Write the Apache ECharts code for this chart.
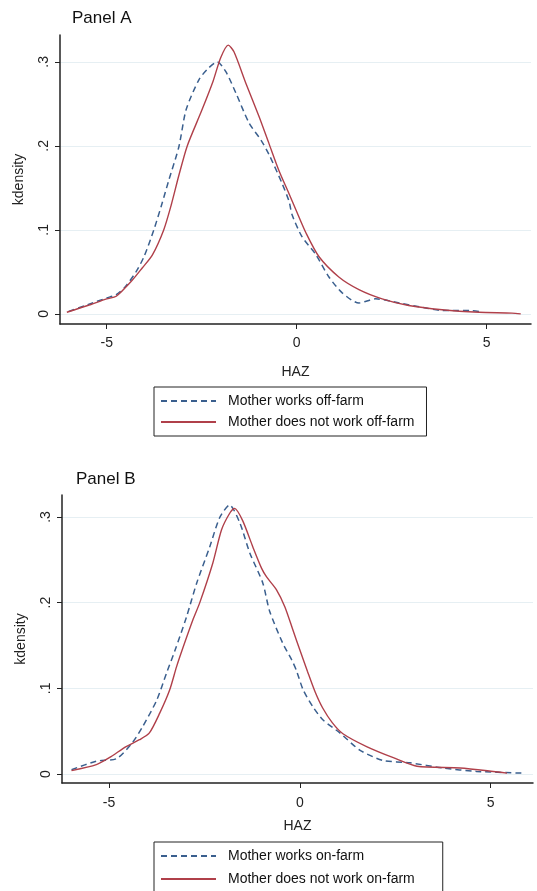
<!DOCTYPE html>
<html>
<head>
<meta charset="utf-8">
<script src="https://cdn.jsdelivr.net/npm/echarts@6/dist/echarts.min.js"></script>
<style>
  html, body { margin: 0; padding: 0; background: #fff; overflow: hidden; }
  #chart { width: 537px; height: 910px; }
</style>
</head>
<body>
<div id="chart"></div>
<script>
// kernel density of HAZ as [HAZ, density]
const offFarmWorks = [
  [-6.0, 0.003], [-5.5, 0.011], [-5.0, 0.019], [-4.75, 0.023], [-4.5, 0.033],
  [-4.23, 0.05], [-4.02, 0.068], [-3.76, 0.1], [-3.54, 0.132], [-3.36, 0.16],
  [-3.1, 0.199], [-2.91, 0.243], [-2.57, 0.279], [-2.31, 0.293], [-2.09, 0.3],
  [-1.86, 0.288], [-1.6, 0.263], [-1.25, 0.227], [-0.94, 0.207], [-0.73, 0.19],
  [-0.39, 0.156], [-0.2, 0.134], [-0.12, 0.118], [0.14, 0.092], [0.5, 0.071],
  [0.85, 0.044], [1.2, 0.025], [1.64, 0.013], [2.08, 0.018], [2.7, 0.013],
  [3.4, 0.007], [3.83, 0.004], [4.6, 0.004], [4.8, 0.003]
]
const offFarmNot = [
  [-6.05, 0.002], [-5.5, 0.01], [-5.0, 0.018], [-4.75, 0.021], [-4.33, 0.04],
  [-4.06, 0.055], [-3.8, 0.07], [-3.5, 0.1], [-3.3, 0.13], [-3.1, 0.165],
  [-2.88, 0.2], [-2.5, 0.242], [-2.2, 0.277], [-2.0, 0.305], [-1.8, 0.32],
  [-1.65, 0.312], [-1.34, 0.275], [-0.99, 0.235], [-0.73, 0.203], [-0.47, 0.171],
  [-0.2, 0.143], [-0.02, 0.124], [0.25, 0.096], [0.59, 0.068], [1.11, 0.044],
  [1.64, 0.029], [2.25, 0.018], [2.95, 0.01], [3.83, 0.005], [4.8, 0.002],
  [5.67, 0.001], [5.9, 0.0]
]
const onFarmWorks = [
  [-5.98, 0.005], [-5.33, 0.015], [-4.8, 0.018], [-4.38, 0.037], [-4.12, 0.055],
  [-3.75, 0.086], [-3.49, 0.118], [-3.28, 0.143], [-2.97, 0.183], [-2.7, 0.223],
  [-2.36, 0.265], [-2.1, 0.299], [-1.84, 0.314], [-1.57, 0.293], [-1.31, 0.258],
  [-0.97, 0.223], [-0.79, 0.19], [-0.45, 0.153], [-0.21, 0.133], [-0.09, 0.121],
  [0.09, 0.098], [0.35, 0.078], [0.61, 0.063], [1.05, 0.048], [1.57, 0.028],
  [2.17, 0.016], [2.89, 0.013], [3.75, 0.007], [4.63, 0.003], [5.85, 0.001]
]
const onFarmNot = [
  [-5.98, 0.004], [-5.33, 0.011], [-4.99, 0.019], [-4.55, 0.032], [-4.2, 0.04],
  [-3.94, 0.048], [-3.67, 0.071], [-3.41, 0.098], [-3.23, 0.125], [-3.08, 0.145],
  [-2.8, 0.18], [-2.62, 0.2], [-2.28, 0.246], [-2.05, 0.285], [-1.84, 0.304],
  [-1.71, 0.31], [-1.5, 0.296], [-1.23, 0.265], [-1.0, 0.24], [-0.87, 0.23],
  [-0.61, 0.215], [-0.39, 0.195], [-0.18, 0.168], [0.0, 0.145], [0.2, 0.12],
  [0.4, 0.096], [0.6, 0.077], [0.85, 0.06], [1.13, 0.047], [1.75, 0.032],
  [2.45, 0.019], [3.07, 0.009], [4.2, 0.007], [5.07, 0.003], [5.43, 0.001]
]
const xTicks = [-5, 0, 5]
const yTicks = [0, 0.1, 0.2, 0.3]
const names = [
  'Mother works off-farm', 'Mother does not work off-farm',
  'Mother works on-farm', 'Mother does not work on-farm'
]

const FONT = '"Liberation Sans", Arial, sans-serif'
const BLUE = '#3a5f8e'
const RED = '#b0404a'
const AXIS = '#222'

const chart = echarts.init(document.getElementById('chart'), null, { renderer: 'canvas' })

const yLabel = v => (v === 0 ? '0' : String(v).replace(/^0/, ''))

const makeX = (gridIndex, min, max, gap, margin) => ({
  type: 'value',
  gridIndex,
  min,
  max,
  name: 'HAZ',
  nameLocation: 'middle',
  nameGap: gap,
  nameTextStyle: { color: AXIS, fontFamily: FONT, fontSize: 14 },
  axisLine: { show: true, onZero: false, lineStyle: { color: AXIS, width: 1.5 } },
  axisTick: { show: true, length: 5, customValues: xTicks, lineStyle: { color: AXIS } },
  axisLabel: { customValues: xTicks, color: AXIS, fontFamily: FONT, fontSize: 14, margin },
  splitLine: { show: false }
})

const makeY = (gridIndex, min, max) => ({
  type: 'value',
  gridIndex,
  min,
  max,
  name: 'kdensity',
  nameLocation: 'middle',
  nameGap: 34,
  nameTextStyle: { color: AXIS, fontFamily: FONT, fontSize: 14 },
  axisLine: { show: true, onZero: false, lineStyle: { color: AXIS, width: 1.5 } },
  axisTick: { show: true, length: 5, customValues: yTicks, lineStyle: { color: AXIS } },
  axisLabel: {
    customValues: yTicks, rotate: 90, color: AXIS, fontFamily: FONT, fontSize: 14,
    margin: 9, formatter: yLabel
  },
  splitLine: { show: true, customValues: yTicks, lineStyle: { color: '#e6eff3', width: 1.2 } }
})

const makeSeries = (name, data, idx, dashed) => ({
  name,
  type: 'line',
  xAxisIndex: idx,
  yAxisIndex: idx,
  data,
  smooth: 0.25,
  symbol: 'none',
  silent: true,
  lineStyle: dashed
    ? { color: BLUE, width: 1.5, type: [6, 4] }
    : { color: RED, width: 1.4 },
  itemStyle: { color: dashed ? BLUE : RED }
})

const legendBox = (top, data, gap, padding) => ({
  orient: 'vertical',
  left: 154,
  top,
  data,
  itemWidth: 55,
  itemHeight: 14,
  itemGap: gap,
  padding,
  borderColor: '#222',
  borderWidth: 1,
  selectedMode: false,
  itemStyle: { opacity: 0 },
  textStyle: { color: '#111', fontFamily: FONT, fontSize: 14, padding: [0, 0, 0, 7] }
})

const option = {
  backgroundColor: '#fff',
  animation: false,
  title: [
    { text: 'Panel A', left: 67, top: 5, textStyle: { fontFamily: FONT, fontSize: 17, fontWeight: 'normal', color: '#111' } },
    { text: 'Panel B', left: 71, top: 466, textStyle: { fontFamily: FONT, fontSize: 17, fontWeight: 'normal', color: '#111' } }
  ],
  grid: [
    { left: 60, top: 35, width: 471, height: 289 },
    { left: 62, top: 495, width: 471, height: 288 }
  ],
  xAxis: [
    makeX(0, -6.23, 6.17, 41, 12),
    makeX(1, -6.23, 6.11, 36, 13)
  ],
  yAxis: [
    makeY(0, -0.012, 0.332),
    makeY(1, -0.0105, 0.3256)
  ],
  legend: [
    legendBox(387, [names[0], names[1]], 7, [7, 12, 7, 6]),
    legendBox(842, [names[2], names[3]], 9, [7, 28, 7, 6])
  ],
  series: [
    makeSeries(names[0], offFarmWorks, 0, true),
    makeSeries(names[1], offFarmNot, 0, false),
    makeSeries(names[2], onFarmWorks, 1, true),
    makeSeries(names[3], onFarmNot, 1, false)
  ]
}

chart.setOption(option)
window.addEventListener('resize', () => chart.resize())
</script>
</body>
</html>
